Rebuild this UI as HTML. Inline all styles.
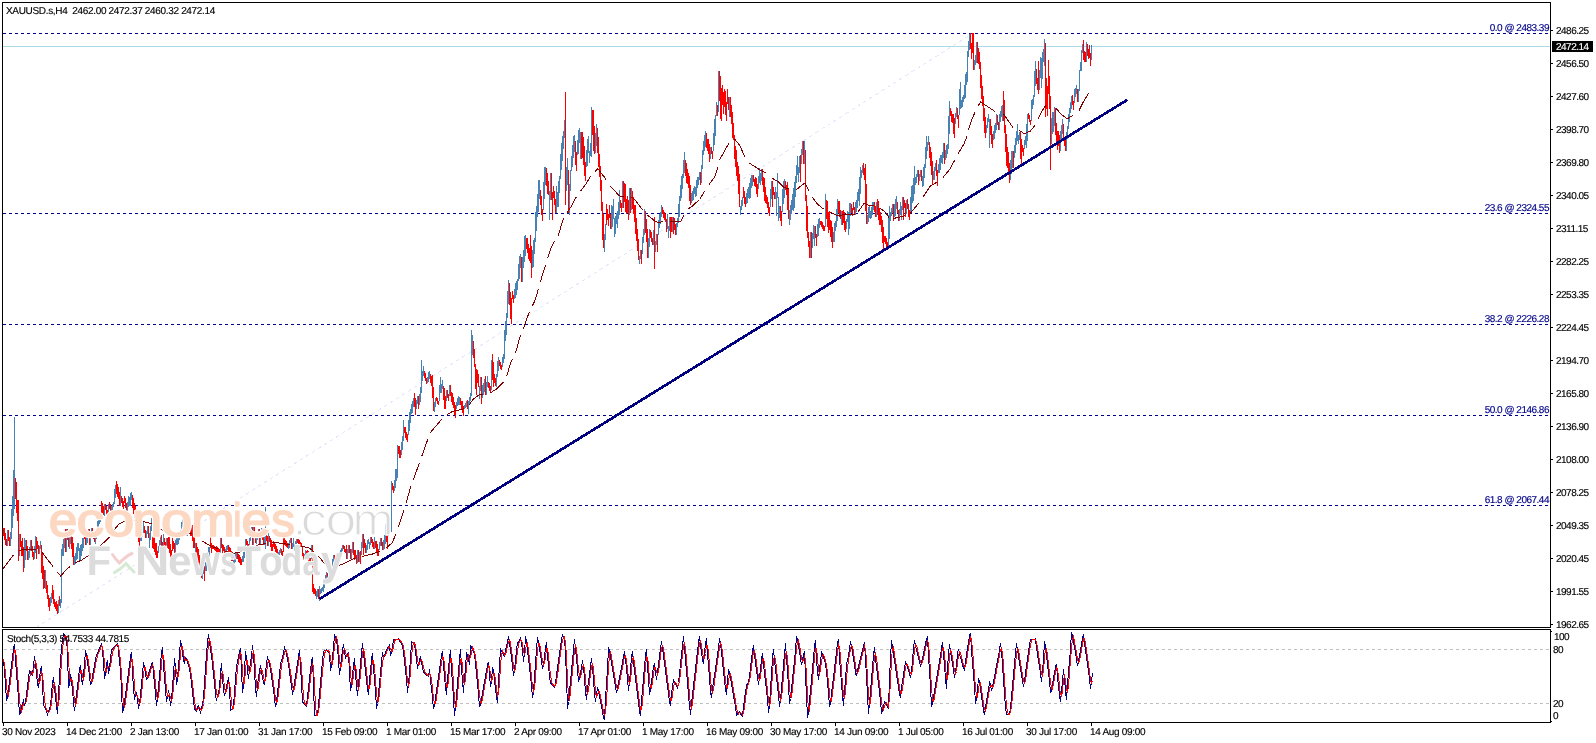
<!DOCTYPE html>
<html><head><meta charset="utf-8"><title>XAUUSD.s,H4</title>
<style>
html,body{margin:0;padding:0;background:#fff;}
svg{display:block;}
text{font-family:"Liberation Sans",sans-serif;text-rendering:geometricPrecision;}
.ax{font-size:10px;letter-spacing:-0.5px;fill:#000;stroke:#000;stroke-width:0.15px;}
.fb{font-size:10px;letter-spacing:-0.5px;fill:#00008B;stroke:#00008B;stroke-width:0.15px;}
.tl{font-size:10px;letter-spacing:-0.3px;fill:#000;stroke:#000;stroke-width:0.15px;}
</style></head><body>
<svg width="1596" height="743" viewBox="0 0 1596 743">
<rect width="1596" height="743" fill="#fff"/>
<defs><filter id="bl" x="-5%" y="-20%" width="110%" height="140%"><feGaussianBlur stdDeviation="0.7"/></filter><filter id="bl2" x="-5%" y="-20%" width="110%" height="140%"><feGaussianBlur stdDeviation="1.2"/></filter></defs>
<rect x="3" y="46" width="1547" height="1" fill="#ADD8E6"/>
<g shape-rendering="crispEdges" stroke="#00008B" stroke-width="1" stroke-dasharray="3 3">
<line x1="3" y1="33.5" x2="1549" y2="33.5"/>
<line x1="3" y1="213.5" x2="1549" y2="213.5"/>
<line x1="3" y1="324.5" x2="1549" y2="324.5"/>
<line x1="3" y1="415.5" x2="1549" y2="415.5"/>
<line x1="3" y1="505.5" x2="1549" y2="505.5"/>
</g>
<line x1="37" y1="627" x2="971.5" y2="34" stroke="#E6E6FA" stroke-width="1" stroke-dasharray="3.55 3.55" stroke-dashoffset="1" shape-rendering="crispEdges"/>
<g shape-rendering="crispEdges" fill="none" stroke-width="1">
<path stroke="#4682B4" d="M7.5 530V546M10.5 532V546M11.5 509V539M12.5 496V528M13.5 470V516M14.5 417V509M19.5 534V556M24.5 538V568M25.5 540V560M28.5 551V560M29.5 547V558M30.5 540V551M34.5 546V559M35.5 536V553M39.5 546V554M40.5 541V549M45.5 570V589M50.5 597V606M51.5 593V603M58.5 600V613M60.5 599V608M61.5 549V603M62.5 544V556M63.5 539V556M64.5 536V548M66.5 529V552M69.5 537V549M70.5 530V544M74.5 556V565M75.5 553V564M76.5 547V560M77.5 543V559M78.5 543V551M79.5 548V560M80.5 545V560M81.5 544V556M82.5 538V551M83.5 538V548M86.5 537V545M87.5 532V543M88.5 529V538M90.5 535V545M91.5 528V538M95.5 533V544M96.5 529V539M97.5 521V530M98.5 517V527M99.5 515V524M100.5 514V522M104.5 504V516M108.5 504V516M111.5 506V512M112.5 504V510M113.5 502V507M114.5 489V504M115.5 485V498M120.5 487V506M127.5 502V512M128.5 496V507M129.5 497V506M130.5 493V506M131.5 492V500M140.5 530V541M141.5 525V541M142.5 524V537M143.5 522V533M146.5 531V538M147.5 526V534M149.5 533V548M150.5 526V540M151.5 518V531M158.5 546V553M159.5 540V552M160.5 536V545M163.5 534V552M166.5 538V548M175.5 540V553M176.5 537V545M177.5 537V545M178.5 534V544M179.5 532V540M180.5 530V537M181.5 522V531M182.5 518V527M184.5 520V536M187.5 528V536M188.5 525V533M189.5 520V530M195.5 543V559M202.5 571V579M203.5 566V574M205.5 562V571M206.5 555V571M207.5 552V566M208.5 547V565M209.5 547V557M220.5 538V553M225.5 549V554M226.5 546V552M227.5 545V550M233.5 560V566M234.5 555V566M235.5 552V562M236.5 552V559M242.5 556V562M243.5 552V562M244.5 551V558M245.5 539V552M249.5 538V545M250.5 529V541M251.5 527V537M253.5 527V545M256.5 534V544M257.5 533V540M258.5 529V537M260.5 534V545M261.5 528V538M264.5 530V545M265.5 507V549M268.5 530V546M278.5 552V556M279.5 550V555M280.5 548V553M288.5 543V549M289.5 540V548M290.5 538V543M292.5 543V549M293.5 538V547M294.5 544V551M295.5 541V549M296.5 539V547M304.5 554V560M305.5 550V557M311.5 545V559M316.5 591V599M317.5 589V597M319.5 586V601M320.5 589V594M321.5 588V593M322.5 587V591M323.5 584V592M324.5 579V588M325.5 575V584M326.5 572V581M329.5 576V582M330.5 573V580M332.5 559V574M333.5 555V562M336.5 560V567M337.5 555V564M338.5 554V561M339.5 552V559M340.5 550V556M341.5 548V553M342.5 545V551M347.5 549V559M348.5 545V553M351.5 549V560M352.5 542V553M357.5 550V563M359.5 552V562M361.5 542V555M362.5 534V548M366.5 545V553M367.5 540V550M368.5 539V544M369.5 542V549M370.5 537V545M374.5 537V549M379.5 542V550M380.5 538V546M383.5 540V550M384.5 535V549M385.5 524V544M391.5 481V532M394.5 480V491M395.5 469V488M396.5 469V481M397.5 445V478M401.5 442V455M402.5 436V450M403.5 420V441M408.5 420V435M409.5 412V431M410.5 409V423M411.5 404V414M412.5 401V413M413.5 398V407M416.5 400V409M417.5 396V404M419.5 394V405M420.5 387V402M421.5 360V393M422.5 371V381M423.5 366V376M427.5 377V383M428.5 372V382M429.5 371V379M434.5 402V412M435.5 398V407M439.5 385V401M440.5 377V393M441.5 384V393M442.5 380V389M446.5 390V401M449.5 385V396M456.5 402V409M457.5 398V406M458.5 396V405M459.5 397V405M464.5 405V409M465.5 403V408M466.5 401V407M468.5 401V414M469.5 397V405M470.5 393V401M471.5 330V396M472.5 335V355M479.5 386V399M480.5 377V391M482.5 385V398M483.5 383V395M484.5 379V392M486.5 382V395M487.5 376V387M491.5 360V390M496.5 374V387M497.5 361V377M498.5 357V371M502.5 357V367M503.5 354V363M504.5 330V359M505.5 321V341M506.5 313V335M507.5 291V318M508.5 280V304M514.5 289V299M515.5 283V298M516.5 281V295M517.5 279V290M518.5 264V281M519.5 256V279M520.5 254V268M522.5 257V282M523.5 250V268M524.5 236V262M525.5 235V256M532.5 250V268M533.5 240V267M534.5 238V254M535.5 212V242M536.5 206V231M537.5 194V217M538.5 180V212M539.5 180V199M543.5 182V210M544.5 167V199M545.5 167V185M549.5 191V220M550.5 173V200M556.5 186V213M557.5 192V207M558.5 181V207M559.5 176V193M560.5 154V179M561.5 143V170M562.5 136V161M563.5 131V149M564.5 120V138M566.5 167V191M567.5 158V185M569.5 184V215M570.5 170V191M571.5 156V171M572.5 145V167M573.5 136V158M574.5 135V152M577.5 140V155M578.5 130V154M579.5 128V143M580.5 132V159M586.5 150V167M587.5 139V166M588.5 136V153M589.5 151V163M590.5 143V156M591.5 107V157M595.5 133V153M596.5 124V146M604.5 234V252M605.5 224V240M611.5 205V229M612.5 206V227M613.5 199V219M614.5 218V237M615.5 216V234M616.5 213V224M617.5 211V228M618.5 202V219M619.5 190V215M622.5 181V208M629.5 188V215M631.5 188V210M639.5 256V264M640.5 250V259M642.5 237V254M643.5 229V243M644.5 209V235M648.5 238V258M649.5 229V247M653.5 230V245M655.5 241V252M656.5 234V245M658.5 220V235M659.5 214V228M660.5 212V224M661.5 205V217M667.5 214V229M668.5 226V238M669.5 217V231M672.5 217V232M676.5 223V235M677.5 218V227M678.5 204V223M679.5 196V217M680.5 185V201M681.5 176V198M682.5 174V189M683.5 160V178M684.5 152V173M691.5 193V203M692.5 191V201M693.5 188V200M694.5 186V194M695.5 187V197M696.5 180V196M697.5 177V188M698.5 177V185M699.5 172V180M701.5 165V183M702.5 150V169M703.5 141V155M704.5 135V151M705.5 131V147M710.5 147V159M713.5 133V151M714.5 119V145M715.5 115V136M716.5 102V116M718.5 71V112M729.5 97V117M740.5 206V215M741.5 200V210M742.5 197V206M746.5 193V204M747.5 189V203M748.5 187V198M749.5 183V199M750.5 178V198M751.5 175V188M752.5 175V186M758.5 176V189M759.5 168V183M760.5 173V185M761.5 169V181M770.5 189V207M771.5 181V199M775.5 187V199M776.5 192V216M777.5 173V198M778.5 197V221M779.5 206V218M782.5 189V212M783.5 181V204M784.5 179V198M789.5 210V225M790.5 205V220M791.5 200V214M792.5 194V210M793.5 188V211M794.5 182V208M795.5 176V197M796.5 165V183M797.5 156V175M798.5 167V182M799.5 156V173M801.5 149V164M802.5 141V155M804.5 141V164M810.5 232V258M812.5 233V248M813.5 225V239M814.5 226V246M817.5 224V237M818.5 219V236M819.5 218V228M825.5 194V227M833.5 232V242M834.5 223V242M835.5 221V231M836.5 209V227M837.5 199V221M841.5 211V225M846.5 219V229M847.5 211V222M848.5 212V235M849.5 203V229M850.5 203V216M855.5 202V215M856.5 200V212M857.5 192V208M858.5 189V201M859.5 177V206M860.5 167V194M861.5 170V178M862.5 165V173M867.5 215V224M868.5 207V222M869.5 206V218M870.5 211V219M871.5 207V218M872.5 202V215M873.5 202V210M876.5 202V217M888.5 215V247M889.5 206V239M890.5 212V221M891.5 208V216M892.5 204V213M894.5 204V217M895.5 199V216M896.5 196V209M899.5 209V221M900.5 202V215M901.5 206V220M902.5 197V210M906.5 200V214M910.5 197V214M911.5 186V212M912.5 185V203M913.5 178V201M914.5 166V194M915.5 177V185M916.5 174V183M917.5 170V177M919.5 174V181M920.5 170V177M922.5 176V187M923.5 167V186M924.5 164V178M925.5 147V168M926.5 136V159M927.5 142V151M928.5 136V145M933.5 171V180M934.5 167V180M935.5 163V171M938.5 164V173M939.5 158V173M940.5 155V170M941.5 155V163M942.5 152V164M943.5 143V158M945.5 150V160M946.5 145V158M947.5 144V154M948.5 116V149M949.5 101V134M955.5 113V124M956.5 107V117M959.5 89V115M960.5 82V109M961.5 100V108M962.5 97V107M963.5 95V102M964.5 85V99M965.5 74V98M966.5 72V85M967.5 51V82M968.5 41V57M969.5 34V50M974.5 60V70M975.5 55V65M976.5 42V63M986.5 125V133M987.5 118V128M988.5 114V122M989.5 119V148M993.5 131V140M994.5 125V139M995.5 123V133M996.5 114V130M999.5 114V130M1000.5 111V122M1001.5 106V117M1002.5 105V121M1010.5 160V180M1011.5 151V174M1012.5 151V168M1014.5 145V158M1015.5 138V153M1016.5 131V145M1017.5 124V141M1018.5 135V144M1019.5 132V140M1024.5 140V149M1025.5 136V145M1026.5 124V148M1027.5 114V141M1031.5 100V121M1032.5 99V109M1033.5 95V105M1034.5 71V97M1035.5 61V86M1039.5 70V90M1040.5 57V78M1041.5 58V88M1042.5 52V79M1043.5 49V62M1044.5 39V66M1051.5 118V144M1052.5 112V134M1053.5 112V132M1054.5 107V126M1060.5 131V151M1061.5 125V141M1062.5 119V134M1066.5 132V151M1067.5 126V139M1068.5 114V129M1069.5 108V122M1070.5 102V113M1071.5 96V109M1074.5 89V103M1075.5 88V97M1076.5 85V94M1078.5 89V102M1079.5 70V91M1080.5 62V71M1081.5 50V71M1082.5 44V53M1086.5 42V62M1091.5 45V60"/>
<path stroke="#FF0000" d="M3.5 528V536M4.5 528V540M5.5 533V545M6.5 539V546M8.5 530V541M9.5 537V546M15.5 478V499M16.5 482V513M17.5 500V521M18.5 500V561M20.5 534V547M21.5 541V556M22.5 538V556M23.5 547V572M26.5 540V551M27.5 546V560M31.5 540V551M32.5 546V557M33.5 552V560M36.5 537V559M37.5 541V549M38.5 545V554M41.5 545V573M42.5 553V579M43.5 566V589M44.5 570V588M46.5 581V593M47.5 585V599M48.5 595V607M49.5 598V611M52.5 585V599M53.5 590V604M54.5 599V607M55.5 602V609M56.5 601V611M57.5 604V614M59.5 596V606M65.5 529V552M67.5 529V540M68.5 533V547M71.5 532V549M72.5 537V557M73.5 543V565M84.5 528V539M85.5 533V545M89.5 529V545M92.5 528V536M93.5 531V539M94.5 533V542M101.5 501V515M102.5 503V513M103.5 506V515M105.5 504V510M106.5 506V515M107.5 510V516M109.5 502V509M110.5 504V512M116.5 481V494M117.5 484V497M118.5 487V499M119.5 492V506M121.5 496V503M122.5 498V507M123.5 501V509M124.5 496V503M125.5 498V508M126.5 503V512M132.5 495V508M133.5 498V514M134.5 503V518M135.5 506V522M136.5 514V529M137.5 522V536M138.5 526V542M139.5 534V546M144.5 526V533M145.5 530V538M148.5 526V538M152.5 518V548M153.5 537V549M154.5 537V552M155.5 543V555M156.5 543V558M157.5 551V558M161.5 535V546M162.5 542V550M164.5 538V545M165.5 542V548M167.5 538V548M168.5 537V549M169.5 537V553M170.5 544V559M171.5 550V559M172.5 537V551M173.5 541V549M174.5 543V554M183.5 520V536M185.5 520V530M186.5 526V536M190.5 521V536M191.5 523V536M192.5 525V541M193.5 528V548M194.5 535V548M196.5 543V554M197.5 547V559M198.5 549V563M199.5 555V567M200.5 566V574M201.5 570V578M204.5 566V581M210.5 537V548M211.5 543V553M212.5 545V549M213.5 545V549M214.5 546V550M215.5 547V551M216.5 546V553M217.5 547V553M218.5 548V553M219.5 549V553M221.5 538V548M222.5 544V553M223.5 545V551M224.5 547V554M228.5 545V551M229.5 547V553M230.5 548V555M231.5 551V561M232.5 554V561M237.5 553V559M238.5 554V562M239.5 555V563M240.5 557V565M241.5 559V565M246.5 539V545M247.5 541V548M248.5 544V549M252.5 527V545M254.5 527V537M255.5 533V543M259.5 529V545M262.5 528V540M263.5 535V545M266.5 530V541M267.5 536V546M269.5 536V542M270.5 538V547M271.5 540V551M272.5 544V551M273.5 541V547M274.5 542V549M275.5 544V552M276.5 546V555M277.5 549V555M281.5 549V555M282.5 551V556M283.5 538V552M284.5 538V545M285.5 540V546M286.5 541V547M287.5 543V548M291.5 538V549M297.5 539V543M298.5 539V544M299.5 540V546M300.5 542V547M301.5 543V547M302.5 546V556M303.5 553V560M306.5 551V559M307.5 550V556M308.5 551V562M309.5 552V563M310.5 558V564M312.5 545V592M313.5 584V594M314.5 588V594M315.5 589V596M318.5 589V599M327.5 573V580M328.5 576V582M331.5 573V581M334.5 555V563M335.5 560V567M343.5 545V549M344.5 546V552M345.5 549V553M346.5 545V559M349.5 545V553M350.5 549V559M353.5 542V555M354.5 550V560M355.5 550V559M356.5 555V564M358.5 550V562M360.5 551V564M363.5 534V555M364.5 539V548M365.5 543V553M371.5 537V543M372.5 539V547M373.5 542V549M375.5 541V548M376.5 541V552M377.5 544V556M378.5 549V556M381.5 538V546M382.5 542V550M386.5 526V542M387.5 535V549M388.5 516V536M389.5 517V531M390.5 523V532M392.5 483V490M393.5 486V493M398.5 446V454M399.5 446V458M400.5 450V458M404.5 427V433M405.5 427V438M406.5 432V440M407.5 434V442M414.5 393V407M415.5 398V415M418.5 396V409M424.5 371V378M425.5 373V381M426.5 378V384M430.5 374V383M431.5 376V386M432.5 375V398M433.5 387V411M436.5 397V401M437.5 398V404M438.5 401V405M443.5 386V400M444.5 388V409M445.5 396V409M447.5 390V398M448.5 394V401M450.5 385V396M451.5 392V402M452.5 393V405M453.5 397V408M454.5 402V415M455.5 405V418M460.5 398V405M461.5 401V409M462.5 401V413M463.5 406V416M467.5 400V409M473.5 341V358M474.5 349V367M475.5 364V389M476.5 369V395M477.5 370V383M478.5 374V387M481.5 377V404M485.5 376V395M488.5 382V388M489.5 383V391M490.5 386V392M492.5 354V380M493.5 362V387M494.5 374V383M495.5 378V386M499.5 360V366M500.5 362V369M501.5 365V370M509.5 283V305M510.5 292V319M511.5 298V324M512.5 291V299M513.5 295V303M521.5 257V282M526.5 238V249M527.5 238V253M528.5 244V259M529.5 248V261M530.5 235V263M531.5 246V278M540.5 190V205M541.5 196V215M542.5 209V221M546.5 168V186M547.5 173V194M548.5 181V195M551.5 173V200M552.5 192V220M553.5 186V198M554.5 191V205M555.5 199V213M565.5 92V205M568.5 170V213M575.5 141V165M576.5 152V171M581.5 132V159M582.5 132V158M583.5 137V165M584.5 146V176M585.5 162V181M592.5 110V135M593.5 110V151M594.5 126V154M597.5 128V153M598.5 137V167M599.5 154V177M600.5 166V191M601.5 180V211M602.5 202V240M603.5 214V248M606.5 204V225M607.5 209V220M608.5 214V226M609.5 205V218M610.5 214V229M620.5 200V208M621.5 203V212M623.5 181V208M624.5 183V202M625.5 184V212M626.5 199V214M627.5 196V213M628.5 200V220M630.5 188V213M632.5 191V209M633.5 197V214M634.5 205V222M635.5 205V234M636.5 218V241M637.5 229V251M638.5 239V260M641.5 250V264M645.5 211V233M646.5 219V242M647.5 229V258M650.5 230V238M651.5 232V242M652.5 238V245M654.5 217V269M657.5 234V252M662.5 207V214M663.5 210V218M664.5 212V220M665.5 214V222M666.5 219V232M670.5 217V238M671.5 217V232M673.5 217V234M674.5 218V230M675.5 224V235M685.5 160V176M686.5 163V183M687.5 169V184M688.5 173V188M689.5 176V201M690.5 185V205M700.5 172V185M706.5 133V148M707.5 139V151M708.5 139V154M709.5 144V162M711.5 147V154M712.5 151V159M717.5 105V116M719.5 71V101M720.5 76V119M721.5 88V121M722.5 85V105M723.5 92V114M724.5 89V107M725.5 91V115M726.5 102V121M727.5 89V104M728.5 97V110M730.5 97V117M731.5 105V124M732.5 112V138M733.5 123V140M734.5 135V159M735.5 146V167M736.5 150V176M737.5 162V181M738.5 166V194M739.5 174V207M743.5 187V198M744.5 191V204M745.5 197V207M753.5 175V182M754.5 179V186M755.5 177V187M756.5 178V194M757.5 184V197M762.5 169V185M763.5 177V192M764.5 178V201M765.5 187V203M766.5 195V204M767.5 197V208M768.5 202V213M769.5 207V216M772.5 181V207M773.5 187V195M774.5 192V199M780.5 206V221M781.5 211V226M785.5 181V190M786.5 185V195M787.5 182V210M788.5 189V219M800.5 155V182M803.5 141V164M805.5 150V201M806.5 195V231M807.5 206V238M808.5 232V247M809.5 241V258M811.5 232V258M815.5 226V238M816.5 234V246M820.5 221V225M821.5 221V227M822.5 222V229M823.5 225V231M824.5 226V231M826.5 200V219M827.5 201V227M828.5 212V233M829.5 211V230M830.5 220V237M831.5 221V242M832.5 227V248M838.5 201V213M839.5 201V217M840.5 210V219M842.5 211V225M843.5 210V223M844.5 212V230M845.5 221V232M851.5 204V213M852.5 208V216M853.5 202V210M854.5 207V215M863.5 163V175M864.5 168V180M865.5 164V211M866.5 184V224M874.5 202V212M875.5 206V217M877.5 199V215M878.5 201V220M879.5 208V225M880.5 212V225M881.5 216V232M882.5 220V243M883.5 227V250M884.5 236V242M885.5 236V244M886.5 238V249M887.5 242V249M893.5 204V221M897.5 202V213M898.5 210V221M903.5 197V220M904.5 200V208M905.5 203V217M907.5 199V209M908.5 204V217M909.5 210V220M918.5 170V185M921.5 170V181M929.5 142V158M930.5 147V166M931.5 152V175M932.5 161V185M936.5 160V176M937.5 170V186M944.5 143V164M950.5 108V116M951.5 111V122M952.5 114V123M953.5 114V134M954.5 118V138M957.5 108V119M958.5 115V128M970.5 33V49M971.5 43V59M972.5 33V53M973.5 33V70M977.5 42V63M978.5 48V64M979.5 52V69M980.5 62V88M981.5 75V99M982.5 86V106M983.5 96V121M984.5 108V133M985.5 117V138M990.5 119V135M991.5 126V144M992.5 134V148M997.5 115V125M998.5 122V130M1003.5 91V121M1004.5 100V133M1005.5 125V152M1006.5 134V166M1007.5 147V168M1008.5 152V174M1009.5 163V183M1013.5 151V168M1020.5 132V159M1021.5 139V164M1022.5 145V152M1023.5 148V156M1028.5 113V119M1029.5 115V122M1030.5 120V125M1036.5 69V84M1037.5 78V90M1038.5 61V94M1045.5 43V117M1046.5 78V109M1047.5 86V116M1048.5 60V94M1049.5 76V109M1050.5 96V170M1055.5 108V135M1056.5 123V143M1057.5 131V150M1058.5 131V146M1059.5 135V153M1063.5 124V141M1064.5 137V146M1065.5 140V151M1072.5 95V105M1073.5 101V110M1077.5 89V102M1083.5 40V60M1084.5 51V62M1085.5 52V62M1087.5 44V56M1088.5 49V59M1089.5 45V58M1090.5 53V66"/>
</g>
<polyline fill="none" stroke="#800000" stroke-width="1" stroke-dasharray="18 7" stroke-dashoffset="3.90" shape-rendering="crispEdges" points="698.6,200.3 692,206.3 686.8,210 680.9,221 675,221.8 663.8,221 659.4,222.5 655.7,221.8 650.5,217.4 644.6,212.9 637.2,202.6 632.7,197.4 623.1,196.6 619.4,195.9 608.3,184 604.6,177.4 597.8,168.7 590.7,175.8 586.7,182.9 575.6,198 571.5,206 563.5,218.2 558.4,235 551.4,246.7 549.4,253 544,270 541.7,277.3 536.8,294.3 534.4,301.6 527,317.7 524.7,325 519,340 516.7,349.2 509.3,366.3 507.8,373.4 504.5,381 496.4,389.2 489.7,393.2 479.4,394.7 472.7,399.6 467.5,408 452.7,411.4 444.6,415.9 431.3,431.4 428,438.8 419.6,462.4 411,486 404.5,508.6 396,534 392,543 383.8,550 371.6,554.3 355.8,557.7 342.3,564.4 336,566 330,566.7 324.2,563.3 316,553 308.4,547.5 286,544 272.4,542 258,545 245,551 234,553.2 220.5,549.8 211.4,546.4 198,538.5 191,533 185,535 178.7,537.4 170,535 161,529.5 153,524 148,522.7 135,520 125,521 119,524 115.4,528.4 109,537.5 105,541.5 90,554.5 81.8,560 72.7,564 66,570 60.6,576 55.6,570 48,560 40,549.8 23,549.5 15.2,552 12,557 3,569"/>
<g fill="none" stroke="#800000" stroke-width="1" shape-rendering="crispEdges">
<polyline points="699.8,199.5 704.5,191"/>
<polyline points="709.2,184.4 714.9,176.8 717.7,167.4"/>
<polyline points="719.6,159.9 729,142.9"/>
<polyline points="734.7,139.2 739.4,144.8 744.7,156.5"/>
<polyline points="749.2,163 759.2,169.4 766.5,173.4"/>
<polyline points="772.2,178.3 777.8,181.5 783.5,187.2 789,188.8"/>
<polyline points="795.6,190.4 800.4,186.3 804.8,183 809,190.4"/>
<polyline points="812.2,197.2 817.4,204 823.5,209"/>
<polyline points="830.3,212.2 836.8,215.4 848,214.6 854.5,214.6"/>
<polyline points="857.8,212.2 864.2,203.3 869,205.7 874.3,205.7"/>
<polyline points="880.2,208.3 885.5,212.4 889,217.4"/>
<polyline points="893,218.6 905,215.8"/>
<polyline points="910.2,213.3 918.6,203.3"/>
<polyline points="923.3,196.7 930,186.3 937,182.2"/>
<polyline points="943,177.5 949.7,169.4 954.8,160"/>
<polyline points="958.2,153.7 963.9,144 967,136.4"/>
<polyline points="968.4,129.6 972,119 975,112.2"/>
<polyline points="978.2,105.7 980.7,102 987.4,106.4 995,111.6"/>
<polyline points="1003.6,113.8 1008,120.4 1012.9,127.6"/>
<polyline points="1019,130.1 1024.3,133.7 1030.3,131.2 1034.7,125.5"/>
<polyline points="1038,118.5 1042.2,110.8 1045.7,105.5"/>
<polyline points="1056,108.3 1060.8,113.8 1067.3,118.9 1072.6,115.4"/>
<polyline points="1079,110.5 1083.2,102 1088.8,93"/>
</g>
<line x1="319.5" y1="599.0" x2="1127.5" y2="99.7" stroke="#000080" stroke-width="2.7" shape-rendering="crispEdges"/>
<g filter="url(#bl)">
<text transform="translate(86.81,575.3) scale(0.959,1)" font-size="41.5" font-weight="bold" fill="#DCDCDC" stroke="#fff" stroke-width="1.6" paint-order="stroke">F</text>
<text transform="translate(134.78,575.3) scale(1.156,1)" font-size="41.5" font-weight="bold" fill="#DCDCDC" stroke="#fff" stroke-width="1.6" paint-order="stroke">N</text>
<text transform="translate(168.12,575.3) scale(1.018,1)" font-size="41.5" font-weight="bold" fill="#DCDCDC" stroke="#fff" stroke-width="1.6" paint-order="stroke">e</text>
<text transform="translate(191.60,575.3) scale(0.872,1)" font-size="41.5" font-weight="bold" fill="#DCDCDC" stroke="#fff" stroke-width="1.6" paint-order="stroke">w</text>
<text transform="translate(220.25,575.3) scale(0.720,1)" font-size="41.5" font-weight="bold" fill="#DCDCDC" stroke="#fff" stroke-width="1.6" paint-order="stroke">s</text>
<text transform="translate(236.70,575.3) scale(0.956,1)" font-size="41.5" font-weight="bold" fill="#DCDCDC" stroke="#fff" stroke-width="1.6" paint-order="stroke">T</text>
<text transform="translate(259.26,575.3) scale(0.924,1)" font-size="41.5" font-weight="bold" fill="#DCDCDC" stroke="#fff" stroke-width="1.6" paint-order="stroke">o</text>
<text transform="translate(281.23,575.3) scale(0.825,1)" font-size="41.5" font-weight="bold" fill="#DCDCDC" stroke="#fff" stroke-width="1.6" paint-order="stroke">d</text>
<text transform="translate(302.53,575.3) scale(0.741,1)" font-size="41.5" font-weight="bold" fill="#DCDCDC" stroke="#fff" stroke-width="1.6" paint-order="stroke">a</text>
<text transform="translate(321.00,575.3) scale(0.942,1)" font-size="41.5" font-weight="bold" fill="#DCDCDC" stroke="#fff" stroke-width="1.6" paint-order="stroke">y</text>
<path d="M112.5 554.5 Q116 560 119.5 563 Q126 556 132 553.5" fill="none" stroke="#F3CFCF" stroke-width="3" stroke-linecap="round"/>
<path d="M114.5 572.5 Q121 569 126 563.5 Q130 568 134 572" fill="none" stroke="#D4EAD4" stroke-width="3" stroke-linecap="round"/>
<text transform="translate(48.69,535.6) scale(1.097,1)" font-size="47" fill="#fff" stroke="#fff" stroke-width="3.6" stroke-linejoin="round">e</text>
<text transform="translate(76.45,535.6) scale(1.169,1)" font-size="47" fill="#fff" stroke="#fff" stroke-width="3.6" stroke-linejoin="round">c</text>
<text transform="translate(103.76,535.6) scale(1.165,1)" font-size="47" fill="#fff" stroke="#fff" stroke-width="3.6" stroke-linejoin="round">o</text>
<text transform="translate(132.57,535.6) scale(1.138,1)" font-size="47" fill="#fff" stroke="#fff" stroke-width="3.6" stroke-linejoin="round">n</text>
<text transform="translate(161.00,535.6) scale(1.196,1)" font-size="47" fill="#fff" stroke="#fff" stroke-width="3.6" stroke-linejoin="round">o</text>
<text transform="translate(191.26,535.6) scale(1.111,1)" font-size="47" fill="#fff" stroke="#fff" stroke-width="3.6" stroke-linejoin="round">m</text>
<text transform="translate(233.27,535.6) scale(0.780,1)" font-size="47" fill="#fff" stroke="#fff" stroke-width="3.6" stroke-linejoin="round">i</text>
<text transform="translate(241.54,535.6) scale(1.124,1)" font-size="47" fill="#fff" stroke="#fff" stroke-width="3.6" stroke-linejoin="round">e</text>
<text transform="translate(271.16,535.6) scale(1.011,1)" font-size="47" fill="#fff" stroke="#fff" stroke-width="3.6" stroke-linejoin="round">s</text>
<text transform="translate(48.69,535.6) scale(1.097,1)" font-size="47" fill="#FCD8C2" stroke="#FCD8C2" stroke-width="1.5" stroke-linejoin="round">e</text>
<text transform="translate(76.45,535.6) scale(1.169,1)" font-size="47" fill="#FCD8C2" stroke="#FCD8C2" stroke-width="1.5" stroke-linejoin="round">c</text>
<text transform="translate(103.76,535.6) scale(1.165,1)" font-size="47" fill="#FCD8C2" stroke="#FCD8C2" stroke-width="1.5" stroke-linejoin="round">o</text>
<text transform="translate(132.57,535.6) scale(1.138,1)" font-size="47" fill="#FCD8C2" stroke="#FCD8C2" stroke-width="1.5" stroke-linejoin="round">n</text>
<text transform="translate(161.00,535.6) scale(1.196,1)" font-size="47" fill="#FCD8C2" stroke="#FCD8C2" stroke-width="1.5" stroke-linejoin="round">o</text>
<text transform="translate(191.26,535.6) scale(1.111,1)" font-size="47" fill="#FCD8C2" stroke="#FCD8C2" stroke-width="1.5" stroke-linejoin="round">m</text>
<text transform="translate(233.27,535.6) scale(0.780,1)" font-size="47" fill="#FCD8C2" stroke="#FCD8C2" stroke-width="1.5" stroke-linejoin="round">i</text>
<text transform="translate(241.54,535.6) scale(1.124,1)" font-size="47" fill="#FCD8C2" stroke="#FCD8C2" stroke-width="1.5" stroke-linejoin="round">e</text>
<text transform="translate(271.16,535.6) scale(1.011,1)" font-size="47" fill="#FCD8C2" stroke="#FCD8C2" stroke-width="1.5" stroke-linejoin="round">s</text>
<text transform="translate(292.97,534.5) scale(1.044,1)" font-size="45" fill="#DADADA" stroke="#fff" stroke-width="1.3">.</text>
<text transform="translate(300.71,534.5) scale(1.160,1)" font-size="45" fill="#DADADA" stroke="#fff" stroke-width="1.3">c</text>
<text transform="translate(325.25,534.5) scale(1.249,1)" font-size="45" fill="#DADADA" stroke="#fff" stroke-width="1.3">o</text>
<text transform="translate(352.60,534.5) scale(1.094,1)" font-size="45" fill="#DADADA" stroke="#fff" stroke-width="1.3">m</text>
</g>
<g shape-rendering="crispEdges" fill="#000">
<rect x="2" y="2" width="1549" height="1"/>
<rect x="2" y="2" width="1" height="626"/>
<rect x="2" y="627" width="1549" height="1"/>
<rect x="2" y="629" width="1549" height="1"/>
<rect x="2" y="629" width="1" height="94"/>
<rect x="2" y="722" width="1549" height="1"/>
<rect x="1550" y="2" width="1" height="626"/>
<rect x="1550" y="629" width="1" height="94"/>
<rect x="1551" y="631" width="1" height="1"/>
<rect x="1551" y="721" width="1" height="1"/>
<rect x="1551" y="30" width="2" height="1"/>
<rect x="1551" y="63" width="2" height="1"/>
<rect x="1551" y="96" width="2" height="1"/>
<rect x="1551" y="129" width="2" height="1"/>
<rect x="1551" y="162" width="2" height="1"/>
<rect x="1551" y="195" width="2" height="1"/>
<rect x="1551" y="228" width="2" height="1"/>
<rect x="1551" y="261" width="2" height="1"/>
<rect x="1551" y="294" width="2" height="1"/>
<rect x="1551" y="327" width="2" height="1"/>
<rect x="1551" y="360" width="2" height="1"/>
<rect x="1551" y="393" width="2" height="1"/>
<rect x="1551" y="426" width="2" height="1"/>
<rect x="1551" y="459" width="2" height="1"/>
<rect x="1551" y="492" width="2" height="1"/>
<rect x="1551" y="525" width="2" height="1"/>
<rect x="1551" y="558" width="2" height="1"/>
<rect x="1551" y="591" width="2" height="1"/>
<rect x="1551" y="624" width="2" height="1"/>
<rect x="3" y="723" width="1" height="3"/>
<rect x="67" y="723" width="1" height="3"/>
<rect x="131" y="723" width="1" height="3"/>
<rect x="195" y="723" width="1" height="3"/>
<rect x="259" y="723" width="1" height="3"/>
<rect x="323" y="723" width="1" height="3"/>
<rect x="387" y="723" width="1" height="3"/>
<rect x="451" y="723" width="1" height="3"/>
<rect x="515" y="723" width="1" height="3"/>
<rect x="579" y="723" width="1" height="3"/>
<rect x="643" y="723" width="1" height="3"/>
<rect x="707" y="723" width="1" height="3"/>
<rect x="771" y="723" width="1" height="3"/>
<rect x="835" y="723" width="1" height="3"/>
<rect x="899" y="723" width="1" height="3"/>
<rect x="963" y="723" width="1" height="3"/>
<rect x="1027" y="723" width="1" height="3"/>
<rect x="1091" y="723" width="1" height="3"/>
</g>
<text class="ax" x="1556" y="34">2486.25</text>
<text class="ax" x="1556" y="67">2456.50</text>
<text class="ax" x="1556" y="100">2427.60</text>
<text class="ax" x="1556" y="133">2398.70</text>
<text class="ax" x="1556" y="166">2369.80</text>
<text class="ax" x="1556" y="199">2340.05</text>
<text class="ax" x="1556" y="232">2311.15</text>
<text class="ax" x="1556" y="265">2282.25</text>
<text class="ax" x="1556" y="298">2253.35</text>
<text class="ax" x="1556" y="331">2224.45</text>
<text class="ax" x="1556" y="364">2194.70</text>
<text class="ax" x="1556" y="397">2165.80</text>
<text class="ax" x="1556" y="430">2136.90</text>
<text class="ax" x="1556" y="463">2108.00</text>
<text class="ax" x="1556" y="496">2078.25</text>
<text class="ax" x="1556" y="529">2049.35</text>
<text class="ax" x="1556" y="562">2020.45</text>
<text class="ax" x="1556" y="595">1991.55</text>
<text class="ax" x="1556" y="628">1962.65</text>
<rect x="1552" y="41" width="41" height="11" fill="#000" shape-rendering="crispEdges"/>
<text class="ax" x="1556" y="50" style="fill:#fff;stroke:#fff">2472.14</text>
<text class="fb" x="1549" y="31" text-anchor="end">0.0 @ 2483.39</text>
<text class="fb" x="1549" y="211" text-anchor="end">23.6 @ 2324.55</text>
<text class="fb" x="1549" y="322" text-anchor="end">38.2 @ 2226.28</text>
<text class="fb" x="1549" y="413" text-anchor="end">50.0 @ 2146.86</text>
<text class="fb" x="1549" y="503" text-anchor="end">61.8 @ 2067.44</text>
<text class="tl" x="2" y="735">30 Nov 2023</text>
<text class="tl" x="66" y="735">14 Dec 21:00</text>
<text class="tl" x="130" y="735">2 Jan 13:00</text>
<text class="tl" x="194" y="735">17 Jan 01:00</text>
<text class="tl" x="258" y="735">31 Jan 17:00</text>
<text class="tl" x="322" y="735">15 Feb 09:00</text>
<text class="tl" x="386" y="735">1 Mar 01:00</text>
<text class="tl" x="450" y="735">15 Mar 17:00</text>
<text class="tl" x="514" y="735">2 Apr 09:00</text>
<text class="tl" x="578" y="735">17 Apr 01:00</text>
<text class="tl" x="642" y="735">1 May 17:00</text>
<text class="tl" x="706" y="735">16 May 09:00</text>
<text class="tl" x="770" y="735">30 May 17:00</text>
<text class="tl" x="834" y="735">14 Jun 09:00</text>
<text class="tl" x="898" y="735">1 Jul 05:00</text>
<text class="tl" x="962" y="735">16 Jul 01:00</text>
<text class="tl" x="1026" y="735">30 Jul 17:00</text>
<text class="tl" x="1090" y="735">14 Aug 09:00</text>
<text class="tl" x="6" y="14" xml:space="preserve" style="letter-spacing:-0.33px">XAUUSD.s,H4  2462.00 2472.37 2460.32 2472.14</text>
<g shape-rendering="crispEdges" stroke="#C0C0C0" stroke-width="1" stroke-dasharray="3 3">
<line x1="4" y1="649.5" x2="1549" y2="649.5"/>
<line x1="4" y1="703.5" x2="1549" y2="703.5"/>
</g>
<g fill="none" stroke-width="1" shape-rendering="crispEdges">
<polyline stroke="#00008B" points="3.5,659.0 4.5,672.6 5.5,684.0 6.5,701.0 7.5,697.0 8.5,689.0 9.5,680.9 10.5,672.9 11.5,664.9 12.5,656.8 13.5,648.8 14.5,644.0 15.5,661.1 16.5,673.4 17.5,685.6 18.5,697.9 19.5,715.0 20.5,712.2 21.5,707.6 22.5,703.1 23.5,700.3 24.5,706.0 25.5,702.1 26.5,694.2 27.5,686.3 28.5,678.5 29.5,670.6 30.5,672.2 31.5,673.9 32.5,675.0 33.5,665.3 34.5,656.4 35.5,664.1 36.5,673.6 37.5,683.2 38.5,688.0 39.5,677.7 40.5,670.8 41.5,666.0 42.5,685.4 43.5,704.8 44.5,706.5 45.5,709.0 46.5,711.5 47.5,714.5 48.5,711.8 49.5,708.4 50.5,706.0 51.5,693.4 52.5,683.8 53.5,677.0 54.5,688.7 55.5,697.7 56.5,706.7 57.5,713.9 58.5,693.6 59.5,676.7 60.5,659.8 61.5,648.0 62.5,640.9 63.5,633.8 64.5,635.2 65.5,637.1 66.5,640.0 67.5,652.0 68.5,688.0 69.5,684.3 70.5,673.8 71.5,680.2 72.5,690.9 73.5,701.7 74.5,711.3 75.5,702.3 76.5,694.1 77.5,685.9 78.5,677.7 79.5,669.5 80.5,665.4 81.5,677.4 82.5,685.4 83.5,674.8 84.5,664.2 85.5,650.5 86.5,655.3 87.5,662.1 88.5,669.0 89.5,675.8 90.5,685.4 91.5,682.0 92.5,676.3 93.5,670.5 94.5,664.8 95.5,659.1 96.5,655.7 97.5,652.7 98.5,650.6 99.5,648.5 100.5,646.4 101.5,643.4 102.5,650.5 103.5,662.4 104.5,679.0 105.5,673.7 106.5,664.9 107.5,659.6 108.5,674.4 109.5,667.8 110.5,658.4 111.5,650.0 112.5,648.9 113.5,647.8 114.5,646.8 115.5,645.8 116.5,644.7 117.5,643.4 118.5,651.4 119.5,662.9 120.5,668.6 121.5,690.9 122.5,713.2 123.5,709.5 124.5,702.0 125.5,694.5 126.5,687.0 127.5,679.5 128.5,672.0 129.5,664.5 130.5,657.0 131.5,651.8 132.5,672.5 133.5,688.4 134.5,699.6 135.5,694.7 136.5,692.0 137.5,699.8 138.5,708.7 139.5,703.8 140.5,693.9 141.5,684.0 142.5,674.1 143.5,662.2 144.5,667.4 145.5,673.8 146.5,680.3 147.5,677.2 148.5,674.1 149.5,670.9 150.5,667.8 151.5,664.7 152.5,662.2 153.5,673.9 154.5,683.6 155.5,693.3 156.5,706.0 157.5,698.1 158.5,686.8 159.5,675.5 160.5,664.2 161.5,652.9 162.5,647.3 163.5,665.6 164.5,677.8 165.5,690.0 166.5,702.2 167.5,696.1 168.5,690.0 169.5,696.4 170.5,706.0 171.5,699.6 172.5,686.7 173.5,673.8 174.5,658.3 175.5,668.2 176.5,685.4 177.5,678.3 178.5,666.4 179.5,654.5 180.5,640.2 181.5,645.8 182.5,652.9 183.5,660.0 184.5,663.5 185.5,657.7 186.5,659.4 187.5,662.2 188.5,665.0 189.5,668.6 190.5,674.8 191.5,683.7 192.5,692.7 193.5,701.6 194.5,708.7 195.5,710.3 196.5,711.3 197.5,707.1 198.5,705.5 199.5,709.2 200.5,712.6 201.5,709.1 202.5,703.1 203.5,698.4 204.5,682.1 205.5,668.4 206.5,654.8 207.5,641.2 208.5,634.4 209.5,643.3 210.5,649.2 211.5,655.7 212.5,664.6 213.5,674.4 214.5,684.3 215.5,694.1 216.5,701.0 217.5,695.7 218.5,691.7 219.5,688.0 220.5,672.1 221.5,663.5 222.5,678.4 223.5,689.0 224.5,696.4 225.5,690.9 226.5,686.7 227.5,682.5 228.5,677.0 229.5,687.7 230.5,710.6 231.5,709.7 232.5,707.9 233.5,706.0 234.5,692.6 235.5,677.7 236.5,667.3 237.5,661.1 238.5,656.3 239.5,651.5 240.5,648.6 241.5,670.1 242.5,693.2 243.5,686.0 244.5,671.5 245.5,651.2 246.5,658.5 247.5,670.5 248.5,679.0 249.5,669.9 250.5,662.9 251.5,655.9 252.5,645.4 253.5,654.0 254.5,671.2 255.5,688.4 256.5,697.0 257.5,685.4 258.5,677.7 259.5,670.0 260.5,665.4 261.5,672.2 262.5,677.1 263.5,682.0 264.5,685.4 265.5,672.8 266.5,663.2 267.5,656.4 268.5,661.4 269.5,665.2 270.5,668.6 271.5,676.4 272.5,683.4 273.5,690.5 274.5,697.5 275.5,707.4 276.5,702.0 277.5,693.1 278.5,684.1 279.5,675.1 280.5,663.5 281.5,660.8 282.5,656.9 283.5,653.1 284.5,647.3 285.5,649.8 286.5,654.8 287.5,659.8 288.5,664.8 289.5,671.9 290.5,678.9 291.5,686.0 292.5,694.5 293.5,689.3 294.5,682.7 295.5,676.2 296.5,669.6 297.5,663.1 298.5,656.5 299.5,650.0 300.5,666.3 301.5,682.6 302.5,702.2 303.5,703.0 304.5,704.0 305.5,705.1 306.5,706.0 307.5,696.4 308.5,687.6 309.5,678.9 310.5,670.1 311.5,661.4 312.5,657.0 313.5,686.0 314.5,715.0 315.5,715.0 316.5,715.0 317.5,715.0 318.5,705.1 319.5,694.1 320.5,683.1 321.5,672.1 322.5,661.1 323.5,651.2 324.5,650.7 325.5,650.2 326.5,650.0 327.5,651.2 328.5,651.9 329.5,653.0 330.5,671.2 331.5,665.6 332.5,656.3 333.5,647.1 334.5,635.0 335.5,636.6 336.5,640.0 337.5,647.0 338.5,661.0 339.5,675.0 340.5,666.6 341.5,658.2 342.5,649.9 343.5,644.0 344.5,652.5 345.5,658.3 346.5,656.1 347.5,654.0 348.5,653.0 349.5,672.8 350.5,691.2 351.5,685.2 352.5,675.2 353.5,665.3 354.5,658.3 355.5,673.8 356.5,685.7 357.5,696.4 358.5,684.7 359.5,674.1 360.5,663.5 361.5,652.9 362.5,643.4 363.5,653.4 364.5,662.6 365.5,671.7 366.5,680.8 367.5,689.9 368.5,694.5 369.5,679.7 370.5,669.8 371.5,659.9 372.5,653.0 373.5,668.1 374.5,679.7 375.5,691.3 376.5,708.7 377.5,703.5 378.5,693.1 379.5,682.8 380.5,672.4 381.5,662.0 382.5,651.6 383.5,658.3 384.5,655.5 385.5,652.7 386.5,649.3 387.5,648.3 388.5,647.1 389.5,645.4 390.5,655.7 391.5,651.8 392.5,646.3 393.5,639.6 394.5,639.5 395.5,639.4 396.5,639.2 397.5,639.1 398.5,639.0 399.5,640.7 400.5,642.1 401.5,643.6 402.5,645.4 403.5,651.9 404.5,661.1 405.5,670.3 406.5,679.6 407.5,692.5 408.5,684.7 409.5,671.8 410.5,658.8 411.5,642.0 412.5,642.4 413.5,642.9 414.5,643.4 415.5,652.1 416.5,659.9 417.5,668.6 418.5,664.4 419.5,659.7 420.5,656.4 421.5,662.7 422.5,667.5 423.5,671.9 424.5,673.0 425.5,674.0 426.5,674.9 427.5,675.9 428.5,676.4 429.5,669.3 430.5,680.0 431.5,688.9 432.5,697.7 433.5,709.3 434.5,704.5 435.5,697.5 436.5,690.6 437.5,683.7 438.5,676.8 439.5,669.9 440.5,663.0 441.5,656.0 442.5,651.2 443.5,665.6 444.5,676.7 445.5,687.8 446.5,694.5 447.5,679.3 448.5,668.5 449.5,657.6 450.5,650.0 451.5,669.2 452.5,683.9 453.5,698.7 454.5,716.4 455.5,706.8 456.5,694.8 457.5,682.8 458.5,670.9 459.5,658.9 460.5,649.3 461.5,667.2 462.5,682.1 463.5,692.5 464.5,678.8 465.5,668.3 466.5,652.5 467.5,654.9 468.5,659.6 469.5,664.8 470.5,646.0 471.5,647.2 472.5,649.6 473.5,652.0 474.5,654.4 475.5,664.2 476.5,674.0 477.5,683.8 478.5,693.7 479.5,707.4 480.5,704.1 481.5,698.5 482.5,692.9 483.5,687.3 484.5,681.7 485.5,676.2 486.5,670.6 487.5,665.0 488.5,662.2 489.5,674.5 490.5,686.7 491.5,681.9 492.5,667.3 493.5,671.6 494.5,680.3 495.5,689.0 496.5,697.7 497.5,702.9 498.5,680.8 499.5,665.1 500.5,649.3 501.5,651.2 502.5,653.1 503.5,655.1 504.5,656.4 505.5,650.6 506.5,646.1 507.5,641.7 508.5,636.3 509.5,642.5 510.5,650.2 511.5,657.9 512.5,665.6 513.5,676.4 514.5,670.2 515.5,659.9 516.5,649.6 517.5,643.4 518.5,641.6 519.5,640.3 520.5,638.3 521.5,642.4 522.5,650.7 523.5,661.5 524.5,653.1 525.5,636.3 526.5,641.5 527.5,650.3 528.5,659.0 529.5,667.8 530.5,676.5 531.5,685.3 532.5,698.4 533.5,691.4 534.5,677.5 535.5,663.5 536.5,649.6 537.5,637.0 538.5,643.3 539.5,649.1 540.5,654.9 541.5,660.6 542.5,669.3 543.5,665.0 544.5,656.5 545.5,648.0 546.5,642.0 547.5,655.6 548.5,666.1 549.5,676.5 550.5,682.8 551.5,684.2 552.5,685.1 553.5,686.1 554.5,687.4 555.5,682.4 556.5,675.2 557.5,668.0 558.5,660.8 559.5,653.7 560.5,646.5 561.5,639.3 562.5,635.0 563.5,637.0 564.5,639.0 565.5,653.4 566.5,677.5 567.5,708.7 568.5,701.5 569.5,691.3 570.5,681.0 571.5,670.8 572.5,660.5 573.5,650.3 574.5,639.0 575.5,648.4 576.5,658.7 577.5,669.1 578.5,681.6 579.5,677.6 580.5,672.6 581.5,667.7 582.5,660.2 583.5,666.6 584.5,679.3 585.5,692.0 586.5,699.6 587.5,689.1 588.5,681.6 589.5,674.2 590.5,666.7 591.5,657.7 592.5,667.9 593.5,680.6 594.5,693.3 595.5,702.2 596.5,694.8 597.5,687.4 598.5,691.0 599.5,696.3 600.5,701.5 601.5,706.7 602.5,711.9 603.5,717.1 604.5,719.7 605.5,698.0 606.5,683.5 607.5,669.0 608.5,647.3 609.5,650.4 610.5,656.5 611.5,662.6 612.5,668.7 613.5,674.8 614.5,681.0 615.5,687.1 616.5,693.2 617.5,688.0 618.5,682.8 619.5,677.6 620.5,672.5 621.5,667.3 622.5,662.1 623.5,656.9 624.5,651.2 625.5,659.6 626.5,669.0 627.5,678.4 628.5,690.6 629.5,682.0 630.5,669.7 631.5,657.4 632.5,651.2 633.5,663.1 634.5,671.1 635.5,679.0 636.5,687.0 637.5,694.9 638.5,702.9 639.5,710.8 640.5,716.4 641.5,701.4 642.5,689.8 643.5,678.2 644.5,666.7 645.5,655.1 646.5,649.3 647.5,667.1 648.5,679.0 649.5,694.5 650.5,689.2 651.5,681.7 652.5,674.1 653.5,666.6 654.5,662.8 655.5,672.9 656.5,679.6 657.5,671.9 658.5,664.1 659.5,656.4 660.5,648.6 661.5,640.9 662.5,648.5 663.5,656.0 664.5,663.6 665.5,671.2 666.5,678.7 667.5,686.3 668.5,693.9 669.5,701.5 670.5,706.0 671.5,694.0 672.5,685.4 673.5,680.3 674.5,682.5 675.5,684.1 676.5,685.8 677.5,688.0 678.5,682.5 679.5,673.2 680.5,664.0 681.5,654.8 682.5,645.5 683.5,636.3 684.5,648.0 685.5,659.6 686.5,671.3 687.5,683.0 688.5,694.7 689.5,706.3 690.5,714.5 691.5,703.2 692.5,694.5 693.5,685.8 694.5,677.1 695.5,668.4 696.5,659.8 697.5,651.1 698.5,642.4 699.5,636.3 700.5,645.4 701.5,652.3 702.5,659.3 703.5,663.5 704.5,652.5 705.5,644.6 706.5,638.3 707.5,653.3 708.5,665.8 709.5,678.4 710.5,690.9 711.5,698.4 712.5,688.8 713.5,682.0 714.5,675.2 715.5,668.3 716.5,661.5 717.5,654.7 718.5,647.9 719.5,638.3 720.5,643.7 721.5,652.8 722.5,661.9 723.5,670.9 724.5,680.0 725.5,689.1 726.5,694.5 727.5,681.9 728.5,669.3 729.5,672.7 730.5,678.4 731.5,684.2 732.5,689.9 733.5,695.6 734.5,701.3 735.5,707.0 736.5,715.0 737.5,714.0 738.5,712.4 739.5,711.3 740.5,713.6 741.5,715.3 742.5,716.4 743.5,706.3 744.5,699.1 745.5,691.9 746.5,685.4 747.5,683.7 748.5,681.6 749.5,676.4 750.5,667.8 751.5,659.2 752.5,650.6 753.5,645.4 754.5,655.6 755.5,662.9 756.5,670.1 757.5,677.4 758.5,685.4 759.5,677.3 760.5,668.3 761.5,659.3 762.5,653.0 763.5,664.4 764.5,673.2 765.5,681.9 766.5,690.7 767.5,699.5 768.5,712.6 769.5,704.8 770.5,689.2 771.5,673.6 772.5,658.0 773.5,648.6 774.5,660.6 775.5,669.1 776.5,677.7 777.5,686.2 778.5,694.7 779.5,706.7 780.5,699.8 781.5,688.3 782.5,676.8 783.5,665.3 784.5,653.8 785.5,643.4 786.5,658.3 787.5,671.8 788.5,685.3 789.5,704.2 790.5,698.5 791.5,688.9 792.5,679.3 793.5,669.8 794.5,660.2 795.5,650.6 796.5,636.3 797.5,639.3 798.5,645.4 799.5,651.5 800.5,657.5 801.5,665.4 802.5,660.9 803.5,654.4 804.5,651.2 805.5,677.0 806.5,694.3 807.5,718.4 808.5,711.9 809.5,701.0 810.5,690.2 811.5,679.3 812.5,668.4 813.5,657.6 814.5,646.7 815.5,640.2 816.5,659.2 817.5,672.8 818.5,679.6 819.5,668.9 820.5,661.8 821.5,652.5 822.5,654.5 823.5,657.3 824.5,660.1 825.5,663.5 826.5,671.9 827.5,682.3 828.5,692.8 829.5,707.4 830.5,702.3 831.5,693.9 832.5,685.4 833.5,677.0 834.5,668.6 835.5,660.1 836.5,651.7 837.5,643.2 838.5,639.0 839.5,658.2 840.5,671.0 841.5,683.8 842.5,696.5 843.5,705.5 844.5,691.1 845.5,680.1 846.5,663.5 847.5,660.7 848.5,655.0 849.5,649.4 850.5,641.5 851.5,645.5 852.5,652.2 853.5,659.0 854.5,665.7 855.5,672.4 856.5,676.4 857.5,670.7 858.5,666.6 859.5,662.5 860.5,658.4 861.5,654.3 862.5,650.2 863.5,646.1 864.5,642.0 865.5,659.5 866.5,677.1 867.5,694.6 868.5,713.9 869.5,703.2 870.5,691.3 871.5,679.4 872.5,667.5 873.5,655.6 874.5,647.3 875.5,658.3 876.5,666.8 877.5,675.3 878.5,683.8 879.5,692.2 880.5,700.7 881.5,712.6 882.5,710.4 883.5,706.7 884.5,701.6 885.5,702.8 886.5,704.9 887.5,707.0 888.5,708.0 889.5,678.1 890.5,658.1 891.5,640.2 892.5,647.6 893.5,654.2 894.5,660.9 895.5,667.6 896.5,674.3 897.5,681.0 898.5,687.7 899.5,694.4 900.5,697.7 901.5,687.8 902.5,681.2 903.5,674.7 904.5,668.1 905.5,661.5 906.5,664.4 907.5,667.4 908.5,670.3 909.5,673.3 910.5,677.7 911.5,671.8 912.5,660.1 913.5,648.4 914.5,640.2 915.5,645.5 916.5,649.6 917.5,653.7 918.5,657.7 919.5,661.8 920.5,666.7 921.5,662.9 922.5,658.2 923.5,653.4 924.5,648.7 925.5,643.9 926.5,639.2 927.5,636.3 928.5,656.8 929.5,671.5 930.5,686.2 931.5,706.7 932.5,703.1 933.5,697.0 934.5,691.0 935.5,684.9 936.5,678.9 937.5,672.8 938.5,666.8 939.5,660.7 940.5,654.7 941.5,648.7 942.5,642.0 943.5,653.4 944.5,666.0 945.5,678.6 946.5,688.7 947.5,669.5 948.5,653.6 949.5,644.0 950.5,652.3 951.5,658.2 952.5,664.1 953.5,670.0 954.5,678.3 955.5,672.7 956.5,663.5 957.5,654.2 958.5,648.6 959.5,653.7 960.5,657.3 961.5,660.9 962.5,664.6 963.5,668.2 964.5,670.0 965.5,660.8 966.5,654.6 967.5,648.4 968.5,642.2 969.5,636.1 970.5,633.0 971.5,650.9 972.5,662.9 973.5,674.8 974.5,686.8 975.5,703.5 976.5,698.3 977.5,689.7 978.5,677.7 979.5,682.0 980.5,689.2 981.5,696.4 982.5,703.5 983.5,710.7 984.5,715.0 985.5,706.9 986.5,701.2 987.5,695.4 988.5,689.7 989.5,681.6 990.5,684.4 991.5,690.6 992.5,686.9 993.5,681.7 994.5,676.4 995.5,671.2 996.5,665.9 997.5,660.7 998.5,655.4 999.5,650.2 1000.5,642.8 1001.5,651.2 1002.5,665.3 1003.5,679.4 1004.5,693.4 1005.5,707.5 1006.5,714.5 1007.5,714.3 1008.5,714.1 1009.5,713.9 1010.5,707.4 1011.5,696.5 1012.5,685.7 1013.5,674.9 1014.5,664.0 1015.5,653.2 1016.5,643.4 1017.5,650.2 1018.5,656.4 1019.5,662.6 1020.5,668.8 1021.5,675.0 1022.5,681.2 1023.5,687.4 1024.5,680.3 1025.5,673.1 1026.5,666.0 1027.5,658.9 1028.5,651.7 1029.5,644.6 1030.5,639.6 1031.5,639.4 1032.5,639.3 1033.5,639.2 1034.5,639.1 1035.5,639.0 1036.5,647.9 1037.5,654.3 1038.5,660.6 1039.5,667.0 1040.5,673.3 1041.5,681.6 1042.5,672.2 1043.5,658.9 1044.5,641.5 1045.5,647.4 1046.5,655.9 1047.5,664.4 1048.5,672.9 1049.5,681.3 1050.5,693.2 1051.5,689.8 1052.5,684.0 1053.5,678.3 1054.5,672.6 1055.5,666.9 1056.5,664.0 1057.5,677.3 1058.5,686.2 1059.5,695.1 1060.5,702.2 1061.5,690.7 1062.5,681.1 1063.5,668.6 1064.5,678.2 1065.5,692.0 1066.5,700.3 1067.5,683.9 1068.5,672.2 1069.5,660.6 1070.5,648.9 1071.5,632.5 1072.5,636.0 1073.5,641.7 1074.5,647.5 1075.5,653.3 1076.5,659.1 1077.5,666.0 1078.5,661.4 1079.5,655.7 1080.5,649.9 1081.5,644.2 1082.5,638.4 1083.5,634.4 1084.5,643.6 1085.5,650.6 1086.5,657.7 1087.5,664.7 1088.5,671.8 1089.5,678.8 1090.5,688.7 1091.5,681.5 1092.5,673.2"/>
<polyline stroke="#FF0000" points="3.5,659.0 4.5,665.8 5.5,671.9 6.5,685.9 7.5,694.0 8.5,695.6 9.5,689.0 10.5,680.9 11.5,672.9 12.5,664.9 13.5,656.8 14.5,649.9 15.5,651.3 16.5,659.5 17.5,673.4 18.5,685.6 19.5,699.5 20.5,708.4 21.5,711.6 22.5,707.6 23.5,703.7 24.5,703.1 25.5,702.8 26.5,700.8 27.5,694.2 28.5,686.3 29.5,678.5 30.5,673.8 31.5,672.2 32.5,673.7 33.5,671.4 34.5,665.6 35.5,661.9 36.5,664.7 37.5,673.6 38.5,681.6 39.5,683.0 40.5,678.8 41.5,671.5 42.5,674.1 43.5,685.4 44.5,698.9 45.5,706.8 46.5,709.0 47.5,711.7 48.5,712.6 49.5,711.6 50.5,708.7 51.5,702.6 52.5,694.4 53.5,684.7 54.5,683.2 55.5,687.8 56.5,697.7 57.5,706.1 58.5,704.7 59.5,694.7 60.5,676.7 61.5,661.5 62.5,649.6 63.5,640.9 64.5,636.6 65.5,635.4 66.5,637.4 67.5,643.0 68.5,660.0 69.5,674.8 70.5,682.0 71.5,679.4 72.5,681.7 73.5,690.9 74.5,701.3 75.5,705.1 76.5,702.6 77.5,694.1 78.5,685.9 79.5,677.7 80.5,670.9 81.5,670.8 82.5,676.1 83.5,679.2 84.5,674.8 85.5,663.2 86.5,656.7 87.5,656.0 88.5,662.1 89.5,669.0 90.5,676.7 91.5,681.1 92.5,681.2 93.5,676.3 94.5,670.6 95.5,664.8 96.5,659.9 97.5,655.9 98.5,653.0 99.5,650.6 100.5,648.5 101.5,646.1 102.5,646.8 103.5,652.1 104.5,664.0 105.5,671.7 106.5,672.5 107.5,666.1 108.5,666.3 109.5,667.3 110.5,666.9 111.5,658.8 112.5,652.4 113.5,648.9 114.5,647.8 115.5,646.8 116.5,645.8 117.5,644.6 118.5,646.5 119.5,652.6 120.5,661.0 121.5,674.1 122.5,690.9 123.5,704.5 124.5,708.2 125.5,702.0 126.5,694.5 127.5,687.0 128.5,679.5 129.5,672.0 130.5,664.5 131.5,657.8 132.5,660.5 133.5,670.9 134.5,686.9 135.5,694.2 136.5,695.4 137.5,695.5 138.5,700.2 139.5,704.1 140.5,702.1 141.5,693.9 142.5,684.0 143.5,673.4 144.5,667.9 145.5,667.8 146.5,673.8 147.5,677.1 148.5,677.2 149.5,674.1 150.5,670.9 151.5,667.8 152.5,664.9 153.5,666.9 154.5,673.2 155.5,683.6 156.5,694.3 157.5,699.1 158.5,697.0 159.5,686.8 160.5,675.5 161.5,664.2 162.5,654.8 163.5,655.3 164.5,663.6 165.5,677.8 166.5,690.0 167.5,696.1 168.5,696.1 169.5,694.2 170.5,697.5 171.5,700.7 172.5,697.4 173.5,686.7 174.5,672.9 175.5,666.7 176.5,670.6 177.5,677.3 178.5,676.7 179.5,666.4 180.5,653.7 181.5,646.8 182.5,646.3 183.5,652.9 184.5,658.8 185.5,660.4 186.5,660.2 187.5,659.7 188.5,662.2 189.5,665.2 190.5,669.5 191.5,675.7 192.5,683.7 193.5,692.7 194.5,701.0 195.5,706.9 196.5,710.1 197.5,709.6 198.5,708.0 199.5,707.3 200.5,709.1 201.5,710.3 202.5,708.3 203.5,703.5 204.5,694.5 205.5,683.0 206.5,668.4 207.5,654.8 208.5,643.5 209.5,639.6 210.5,642.3 211.5,649.4 212.5,656.5 213.5,664.9 214.5,674.4 215.5,684.3 216.5,693.1 217.5,696.9 218.5,696.1 219.5,691.8 220.5,683.9 221.5,674.5 222.5,671.3 223.5,676.9 224.5,687.9 225.5,692.1 226.5,691.3 227.5,686.7 228.5,682.1 229.5,682.4 230.5,691.8 231.5,702.7 232.5,709.4 233.5,707.9 234.5,702.2 235.5,692.1 236.5,679.2 237.5,668.7 238.5,661.5 239.5,656.3 240.5,652.1 241.5,656.7 242.5,670.6 243.5,683.1 244.5,683.5 245.5,669.5 246.5,660.4 247.5,660.1 248.5,669.3 249.5,673.1 250.5,670.6 251.5,662.9 252.5,654.7 253.5,651.8 254.5,656.9 255.5,671.2 256.5,685.5 257.5,690.3 258.5,686.7 259.5,677.7 260.5,671.1 261.5,669.2 262.5,671.6 263.5,677.1 264.5,681.5 265.5,680.1 266.5,673.8 267.5,664.1 268.5,660.3 269.5,661.0 270.5,665.0 271.5,670.0 272.5,676.1 273.5,683.4 274.5,690.5 275.5,698.5 276.5,702.3 277.5,700.8 278.5,693.1 279.5,684.1 280.5,674.3 281.5,666.5 282.5,660.4 283.5,656.9 284.5,652.4 285.5,650.1 286.5,650.6 287.5,654.8 288.5,659.8 289.5,665.5 290.5,671.9 291.5,678.9 292.5,686.5 293.5,689.9 294.5,688.8 295.5,682.7 296.5,676.2 297.5,669.6 298.5,663.1 299.5,656.5 300.5,657.6 301.5,666.3 302.5,683.7 303.5,695.9 304.5,703.1 305.5,704.0 306.5,705.0 307.5,702.5 308.5,696.7 309.5,687.6 310.5,678.9 311.5,670.1 312.5,662.8 313.5,668.1 314.5,686.0 315.5,705.3 316.5,715.0 317.5,715.0 318.5,711.7 319.5,704.7 320.5,694.1 321.5,683.1 322.5,672.1 323.5,661.5 324.5,654.3 325.5,650.7 326.5,650.3 327.5,650.5 328.5,651.0 329.5,652.0 330.5,658.7 331.5,663.3 332.5,664.4 333.5,656.3 334.5,646.1 335.5,639.6 336.5,637.2 337.5,641.2 338.5,649.3 339.5,661.0 340.5,667.5 341.5,666.6 342.5,658.2 343.5,650.7 344.5,648.8 345.5,651.6 346.5,655.6 347.5,656.1 348.5,654.4 349.5,659.9 350.5,672.3 351.5,683.1 352.5,683.9 353.5,675.2 354.5,666.3 355.5,665.8 356.5,672.6 357.5,685.3 358.5,688.9 359.5,685.1 360.5,674.1 361.5,663.5 362.5,653.3 363.5,649.9 364.5,653.1 365.5,662.6 366.5,671.7 367.5,680.8 368.5,688.4 369.5,688.0 370.5,681.3 371.5,669.8 372.5,660.9 373.5,660.3 374.5,666.9 375.5,679.7 376.5,693.2 377.5,701.2 378.5,701.8 379.5,693.1 380.5,682.8 381.5,672.4 382.5,662.0 383.5,657.3 384.5,655.1 385.5,655.5 386.5,652.5 387.5,650.1 388.5,648.2 389.5,646.9 390.5,649.4 391.5,651.0 392.5,651.3 393.5,645.9 394.5,641.8 395.5,639.5 396.5,639.4 397.5,639.2 398.5,639.1 399.5,639.6 400.5,640.6 401.5,642.1 402.5,643.7 403.5,646.9 404.5,652.8 405.5,661.1 406.5,670.3 407.5,680.8 408.5,685.6 409.5,683.0 410.5,671.8 411.5,657.5 412.5,647.7 413.5,642.4 414.5,642.9 415.5,646.1 416.5,651.8 417.5,660.2 418.5,664.3 419.5,664.2 420.5,660.2 421.5,659.6 422.5,662.2 423.5,667.4 424.5,670.8 425.5,672.9 426.5,674.0 427.5,674.9 428.5,675.7 429.5,673.9 430.5,675.2 431.5,679.4 432.5,688.9 433.5,698.6 434.5,703.8 435.5,703.8 436.5,697.5 437.5,690.6 438.5,683.7 439.5,676.8 440.5,669.9 441.5,663.0 442.5,656.7 443.5,657.6 444.5,664.5 445.5,676.7 446.5,686.4 447.5,687.2 448.5,680.8 449.5,668.5 450.5,658.7 451.5,658.9 452.5,667.7 453.5,683.9 454.5,699.7 455.5,707.3 456.5,706.0 457.5,694.8 458.5,682.8 459.5,670.9 460.5,659.7 461.5,658.5 462.5,666.2 463.5,680.6 464.5,684.5 465.5,679.9 466.5,666.5 467.5,658.6 468.5,655.7 469.5,659.8 470.5,656.8 471.5,652.7 472.5,647.6 473.5,649.6 474.5,652.0 475.5,656.9 476.5,664.2 477.5,674.0 478.5,683.8 479.5,695.0 480.5,701.7 481.5,703.3 482.5,698.5 483.5,692.9 484.5,687.3 485.5,681.7 486.5,676.2 487.5,670.6 488.5,665.9 489.5,667.2 490.5,674.5 491.5,681.0 492.5,678.6 493.5,673.6 494.5,673.1 495.5,680.3 496.5,689.0 497.5,696.5 498.5,693.8 499.5,682.9 500.5,665.1 501.5,655.2 502.5,651.2 503.5,653.1 504.5,654.9 505.5,654.0 506.5,651.0 507.5,646.1 508.5,641.4 509.5,640.1 510.5,643.0 511.5,650.2 512.5,657.9 513.5,666.6 514.5,670.7 515.5,668.8 516.5,659.9 517.5,651.0 518.5,644.9 519.5,641.7 520.5,640.0 521.5,640.3 522.5,643.8 523.5,651.6 524.5,655.1 525.5,650.3 526.5,643.6 527.5,642.7 528.5,650.3 529.5,659.0 530.5,667.8 531.5,676.5 532.5,686.7 533.5,691.7 534.5,689.1 535.5,677.5 536.5,663.5 537.5,650.0 538.5,643.3 539.5,643.2 540.5,649.1 541.5,654.9 542.5,661.6 543.5,665.0 544.5,663.6 545.5,656.5 546.5,648.8 547.5,648.5 548.5,654.6 549.5,666.1 550.5,675.1 551.5,681.2 552.5,684.0 553.5,685.1 554.5,686.2 555.5,685.3 556.5,681.7 557.5,675.2 558.5,668.0 559.5,660.8 560.5,653.7 561.5,646.5 562.5,640.3 563.5,637.1 564.5,637.0 565.5,643.1 566.5,656.6 567.5,679.9 568.5,695.9 569.5,700.5 570.5,691.3 571.5,681.0 572.5,670.8 573.5,660.5 574.5,649.9 575.5,645.9 576.5,648.7 577.5,658.7 578.5,669.8 579.5,676.1 580.5,677.3 581.5,672.6 582.5,666.8 583.5,664.8 584.5,668.7 585.5,679.3 586.5,690.3 587.5,693.6 588.5,690.1 589.5,681.6 590.5,674.2 591.5,666.2 592.5,664.1 593.5,668.7 594.5,680.6 595.5,692.0 596.5,696.8 597.5,694.8 598.5,691.1 599.5,691.6 600.5,696.3 601.5,701.5 602.5,706.7 603.5,711.9 604.5,716.2 605.5,711.6 606.5,700.4 607.5,683.5 608.5,666.6 609.5,655.6 610.5,651.4 611.5,656.5 612.5,662.6 613.5,668.7 614.5,674.8 615.5,681.0 616.5,687.1 617.5,689.4 618.5,688.0 619.5,682.8 620.5,677.6 621.5,672.5 622.5,667.3 623.5,662.1 624.5,656.7 625.5,655.9 626.5,660.0 627.5,669.0 628.5,679.3 629.5,683.7 630.5,680.7 631.5,669.7 632.5,659.4 633.5,657.2 634.5,661.8 635.5,671.1 636.5,679.0 637.5,687.0 638.5,694.9 639.5,702.9 640.5,710.0 641.5,709.5 642.5,702.5 643.5,689.8 644.5,678.2 645.5,666.7 646.5,657.0 647.5,657.2 648.5,665.2 649.5,680.2 650.5,687.6 651.5,688.5 652.5,681.7 653.5,674.1 654.5,667.8 655.5,667.4 656.5,671.8 657.5,674.8 658.5,671.9 659.5,664.1 660.5,656.4 661.5,648.6 662.5,646.0 663.5,648.5 664.5,656.0 665.5,663.6 666.5,671.2 667.5,678.7 668.5,686.3 669.5,693.9 670.5,700.4 671.5,700.5 672.5,695.1 673.5,686.6 674.5,682.8 675.5,682.3 676.5,684.1 677.5,686.0 678.5,685.4 679.5,681.2 680.5,673.2 681.5,664.0 682.5,654.8 683.5,645.5 684.5,643.3 685.5,648.0 686.5,659.6 687.5,671.3 688.5,683.0 689.5,694.7 690.5,705.2 691.5,708.0 692.5,704.1 693.5,694.5 694.5,685.8 695.5,677.1 696.5,668.4 697.5,659.8 698.5,651.1 699.5,643.3 700.5,641.3 701.5,644.7 702.5,652.3 703.5,658.4 704.5,658.4 705.5,653.5 706.5,645.1 707.5,645.4 708.5,652.5 709.5,665.8 710.5,678.4 711.5,689.2 712.5,692.7 713.5,689.7 714.5,682.0 715.5,675.2 716.5,668.3 717.5,661.5 718.5,654.7 719.5,647.0 720.5,643.3 721.5,644.9 722.5,652.8 723.5,661.9 724.5,670.9 725.5,680.0 726.5,687.9 727.5,688.5 728.5,681.9 729.5,674.6 730.5,673.5 731.5,678.4 732.5,684.2 733.5,689.9 734.5,695.6 735.5,701.3 736.5,707.8 737.5,712.0 738.5,713.8 739.5,712.6 740.5,712.4 741.5,713.4 742.5,715.1 743.5,712.7 744.5,707.3 745.5,699.1 746.5,692.1 747.5,687.0 748.5,683.6 749.5,680.6 750.5,675.3 751.5,667.8 752.5,659.2 753.5,651.7 754.5,650.5 755.5,654.6 756.5,662.9 757.5,670.1 758.5,677.6 759.5,680.0 760.5,677.0 761.5,668.3 762.5,660.2 763.5,658.9 764.5,663.5 765.5,673.2 766.5,681.9 767.5,690.7 768.5,700.9 769.5,705.6 770.5,702.2 771.5,689.2 772.5,673.6 773.5,660.0 774.5,655.7 775.5,659.4 776.5,669.1 777.5,677.7 778.5,686.2 779.5,695.9 780.5,700.4 781.5,698.3 782.5,688.3 783.5,676.8 784.5,665.3 785.5,654.1 786.5,651.8 787.5,657.8 788.5,671.8 789.5,687.1 790.5,696.0 791.5,697.2 792.5,688.9 793.5,679.3 794.5,669.8 795.5,660.2 796.5,649.1 797.5,642.1 798.5,640.3 799.5,645.4 800.5,651.5 801.5,658.1 802.5,661.3 803.5,660.2 804.5,655.5 805.5,660.9 806.5,674.2 807.5,696.6 808.5,708.2 809.5,710.4 810.5,701.0 811.5,690.2 812.5,679.3 813.5,668.4 814.5,657.6 815.5,648.2 816.5,648.7 817.5,657.4 818.5,670.5 819.5,673.8 820.5,670.1 821.5,661.1 822.5,656.2 823.5,654.8 824.5,657.3 825.5,660.3 826.5,665.2 827.5,672.6 828.5,682.3 829.5,694.2 830.5,700.8 831.5,701.2 832.5,693.9 833.5,685.4 834.5,677.0 835.5,668.6 836.5,660.1 837.5,651.7 838.5,644.6 839.5,646.8 840.5,656.1 841.5,671.0 842.5,683.8 843.5,695.3 844.5,697.7 845.5,692.2 846.5,678.2 847.5,668.1 848.5,659.7 849.5,655.0 850.5,648.6 851.5,645.5 852.5,646.4 853.5,652.2 854.5,658.9 855.5,665.7 856.5,671.5 857.5,673.1 858.5,671.2 859.5,666.6 860.5,662.5 861.5,658.4 862.5,654.3 863.5,650.2 864.5,646.1 865.5,649.2 866.5,659.5 867.5,677.1 868.5,695.2 869.5,703.9 870.5,702.8 871.5,691.3 872.5,679.4 873.5,667.5 874.5,656.8 875.5,653.7 876.5,657.5 877.5,666.8 878.5,675.3 879.5,683.8 880.5,692.2 881.5,701.9 882.5,707.9 883.5,709.9 884.5,706.2 885.5,703.7 886.5,703.1 887.5,704.9 888.5,706.6 889.5,697.7 890.5,681.4 891.5,658.8 892.5,648.6 893.5,647.3 894.5,654.2 895.5,660.9 896.5,667.6 897.5,674.3 898.5,681.0 899.5,687.7 900.5,693.2 901.5,693.3 902.5,688.9 903.5,681.2 904.5,674.7 905.5,668.1 906.5,664.7 907.5,664.4 908.5,667.4 909.5,670.3 910.5,673.8 911.5,674.3 912.5,669.9 913.5,660.1 914.5,649.6 915.5,644.7 916.5,645.1 917.5,649.6 918.5,653.7 919.5,657.7 920.5,662.1 921.5,663.8 922.5,662.6 923.5,658.2 924.5,653.4 925.5,648.7 926.5,643.9 927.5,639.8 928.5,644.1 929.5,654.9 930.5,671.5 931.5,688.1 932.5,698.6 933.5,702.3 934.5,697.0 935.5,691.0 936.5,684.9 937.5,678.9 938.5,672.8 939.5,666.8 940.5,660.7 941.5,654.7 942.5,648.4 943.5,648.0 944.5,653.8 945.5,666.0 946.5,677.8 947.5,678.9 948.5,670.6 949.5,655.7 950.5,650.0 951.5,651.5 952.5,658.2 953.5,664.1 954.5,670.8 955.5,673.7 956.5,671.5 957.5,663.4 958.5,655.4 959.5,652.1 960.5,653.2 961.5,657.3 962.5,660.9 963.5,664.6 964.5,667.6 965.5,666.3 966.5,661.8 967.5,654.6 968.5,648.4 969.5,642.2 970.5,637.1 971.5,640.0 972.5,648.9 973.5,662.9 974.5,674.8 975.5,688.4 976.5,696.2 977.5,697.2 978.5,688.6 979.5,683.1 980.5,683.0 981.5,689.2 982.5,696.4 983.5,703.5 984.5,709.7 985.5,710.9 986.5,707.7 987.5,701.2 988.5,695.4 989.5,688.9 990.5,685.2 991.5,685.5 992.5,687.3 993.5,686.4 994.5,681.7 995.5,676.4 996.5,671.2 997.5,665.9 998.5,660.7 999.5,655.4 1000.5,649.5 1001.5,648.1 1002.5,653.1 1003.5,665.3 1004.5,679.4 1005.5,693.4 1006.5,705.1 1007.5,712.1 1008.5,714.3 1009.5,714.1 1010.5,711.8 1011.5,705.9 1012.5,696.5 1013.5,685.7 1014.5,674.9 1015.5,664.0 1016.5,653.5 1017.5,648.9 1018.5,650.0 1019.5,656.4 1020.5,662.6 1021.5,668.8 1022.5,675.0 1023.5,681.2 1024.5,683.0 1025.5,680.3 1026.5,673.1 1027.5,666.0 1028.5,658.9 1029.5,651.7 1030.5,645.3 1031.5,641.2 1032.5,639.5 1033.5,639.3 1034.5,639.2 1035.5,639.1 1036.5,642.0 1037.5,647.1 1038.5,654.3 1039.5,660.6 1040.5,667.0 1041.5,674.0 1042.5,675.7 1043.5,670.9 1044.5,657.5 1045.5,649.3 1046.5,648.3 1047.5,655.9 1048.5,664.4 1049.5,672.9 1050.5,682.5 1051.5,688.1 1052.5,689.0 1053.5,684.0 1054.5,678.3 1055.5,672.6 1056.5,667.8 1057.5,669.4 1058.5,675.8 1059.5,686.2 1060.5,694.5 1061.5,696.0 1062.5,691.3 1063.5,680.1 1064.5,676.0 1065.5,679.6 1066.5,690.2 1067.5,692.1 1068.5,685.5 1069.5,672.2 1070.5,660.6 1071.5,647.3 1072.5,639.1 1073.5,636.7 1074.5,641.7 1075.5,647.5 1076.5,653.3 1077.5,659.5 1078.5,662.2 1079.5,661.0 1080.5,655.7 1081.5,649.9 1082.5,644.2 1083.5,639.0 1084.5,638.8 1085.5,642.9 1086.5,650.6 1087.5,657.7 1088.5,664.7 1089.5,671.8 1090.5,679.8 1091.5,683.0 1092.5,681.1"/>
</g>
<text class="tl" x="7" y="642" style="letter-spacing:-0.37px">Stoch(5,3,3) 54.7533 44.7815</text>
<text class="ax" x="1554" y="640">100</text>
<text class="ax" x="1553" y="653">80</text>
<text class="ax" x="1553" y="707">20</text>
<text class="ax" x="1553" y="719">0</text>
</svg>
</body></html>
